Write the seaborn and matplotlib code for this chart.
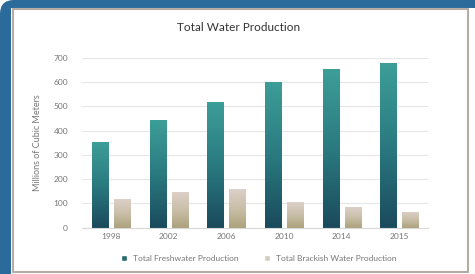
import matplotlib
matplotlib.use("Agg")
import matplotlib.pyplot as plt
import matplotlib.patches as mpatches
from matplotlib.transforms import IdentityTransform
from matplotlib.colors import LinearSegmentedColormap
import numpy as np
import pandas as pd
import seaborn as sns

years = ["1998", "2002", "2006", "2010", "2014", "2015"]
freshwater = [354, 443, 519, 601, 653, 679]
brackish = [118, 146, 159, 106, 85, 66]
series_names = ["Total Freshwater Production", "Total Brackish Water Production"]

df = pd.DataFrame({
    "year": years * 2,
    "value": freshwater + brackish,
    "series": [series_names[0]] * len(years) + [series_names[1]] * len(years),
})

sns.set_theme(style="white")
plt.rcParams["font.family"] = ["Lato", "DejaVu Sans"]

W, H = 475, 274
fig = plt.figure(figsize=(W / 100, H / 100), dpi=100)
fig.patch.set_facecolor("white")

# blue frame (left + top, rounded corner), white panel with thin grey border
px = IdentityTransform()
fig.patches.append(mpatches.FancyBboxPatch((0, -40), W + 40, H + 40,
                                           boxstyle="round,pad=0,rounding_size=14",
                                           transform=px, facecolor="#2b6b9b",
                                           edgecolor="none", zorder=-10))
fig.patches.append(mpatches.Rectangle((11, -10), W, H - 8 + 10, transform=px,
                                      facecolor="white", edgecolor="none", zorder=-9))
fig.patches.append(mpatches.Rectangle((13, 2), 455, 263, transform=px,
                                      facecolor="none", edgecolor="#b5aca4",
                                      linewidth=1.5, zorder=-8))

ax = fig.add_axes([0.1726, 0.169, 0.729, 0.62])
ax.set_facecolor("none")

palette = {series_names[0]: "#23606a", series_names[1]: "#c8bda8"}
sns.barplot(data=df, x="year", y="value", hue="series", palette=palette,
            width=0.76, gap=0.27, ax=ax, legend=False)

grads = [
    LinearSegmentedColormap.from_list("fresh", ["#1a4a5c", "#2a7a80", "#3d9e98"]),
    LinearSegmentedColormap.from_list("brack", ["#aca27c", "#c9bfa8", "#dcd0c8"]),
]
bars = [p for p in ax.patches if isinstance(p, mpatches.Rectangle)]
grad = np.linspace(0, 1, 256).reshape(-1, 1)
for i, p in enumerate(bars):
    cm = grads[0] if i < len(years) else grads[1]
    x0, y0 = p.get_x(), p.get_y()
    w, h = p.get_width(), p.get_height()
    p.set_facecolor("none")
    p.set_edgecolor("none")
    im = ax.imshow(grad, cmap=cm, origin="lower", aspect="auto",
                   extent=[x0, x0 + w, y0, y0 + h], zorder=2)
    im.set_clip_path(p)

ax.set_xlim(-0.5, len(years) - 0.5)
ax.set_ylim(0, 700)
ax.set_yticks(range(0, 701, 100))
ax.yaxis.grid(True, color="#e6e6e6", linewidth=0.8)
ax.set_axisbelow(True)
for s in ["top", "right", "left"]:
    ax.spines[s].set_visible(False)
ax.spines["bottom"].set_color("#d8d8d8")
ax.spines["bottom"].set_linewidth(0.8)
ax.tick_params(axis="both", length=0, labelsize=6, labelcolor="#777777", pad=4)
ax.tick_params(axis="y", pad=10)
ax.set_xlabel("")
ax.set_ylabel("Millions of Cubic Meters", fontsize=6.5, color="#777777", labelpad=8)

fig.text(0.502, 0.9, "Total Water Production", ha="center", va="center",
         fontsize=8.5, color="#333333")

handles = [mpatches.Patch(facecolor="#2a6a6c", label=series_names[0]),
           mpatches.Patch(facecolor="#d5ccbc", label=series_names[1])]
fig.legend(handles=handles, loc="center", bbox_to_anchor=(0.545, 0.058), ncol=2,
           frameon=False, fontsize=6, labelcolor="#777777", handlelength=0.7,
           handleheight=0.7, columnspacing=3, handletextpad=0.8)

fig.savefig("out.png", dpi=100)
